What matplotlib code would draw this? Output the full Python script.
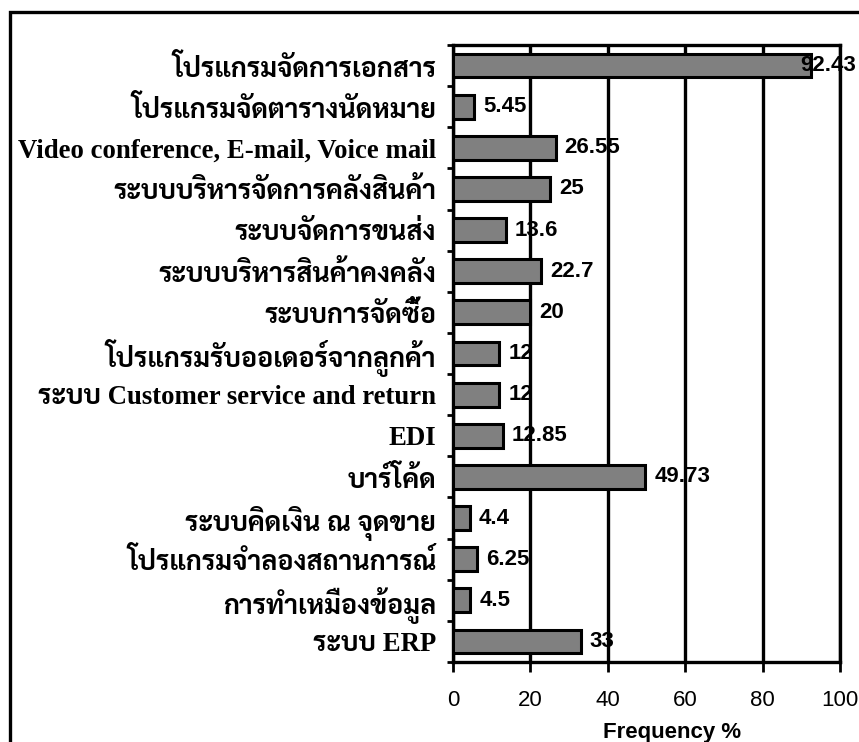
import matplotlib
matplotlib.use('Agg')
import matplotlib.pyplot as plt
import matplotlib.patheffects as pe
from matplotlib import font_manager
from matplotlib.patches import Rectangle

categories = [
    'โปรแกรมจัดการเอกสาร',
    'โปรแกรมจัดตารางนัดหมาย',
    'Video conference, E-mail, Voice mail',
    'ระบบบริหารจัดการคลังสินค้า',
    'ระบบจัดการขนส่ง',
    'ระบบบริหารสินค้าคงคลัง',
    'ระบบการจัดซื้อ',
    'โปรแกรมรับออเดอร์จากลูกค้า',
    'ระบบ Customer service and return',
    'EDI',
    'บาร์โค้ด',
    'ระบบคิดเงิน ณ จุดขาย',
    'โปรแกรมจำลองสถานการณ์',
    'การทำเหมืองข้อมูล',
    'ระบบ ERP',
]
values = [92.43, 5.45, 26.55, 25, 13.6, 22.7, 20, 12, 12, 12.85, 49.73, 4.4, 6.25, 4.5, 33]
labels = ['92.43', '5.45', '26.55', '25', '13.6', '22.7', '20', '12', '12', '12.85',
          '49.73', '4.4', '6.25', '4.5', '33']
xticks = [0, 20, 40, 60, 80, 100]

# pick a Thai-capable font, serif first, and prefer one that ships a bold face
fonts = font_manager.fontManager.ttflist
installed = {f.name for f in fonts}
prefs = ['Noto Serif Thai', 'Kinnari', 'Norasi', 'Laksaman', 'TH Sarabun New',
         'Sarabun', 'Noto Sans Thai', 'Noto Sans Thai Looped', 'Garuda', 'Loma']
thai = [n for n in prefs if n in installed]
thai += sorted(n for n in installed if 'Thai' in n and n not in thai)
has_bold = [n for n in thai
            if any(f.name == n and (f.weight == 'bold' or
                                    (isinstance(f.weight, int) and f.weight >= 600))
                   for f in fonts)]
thai_font = (has_bold or thai or ['DejaVu Sans'])[0]
label_family = ['Liberation Serif', thai_font, 'DejaVu Sans']
label_fx = [] if has_bold else [pe.withStroke(linewidth=0.9, foreground='black')]

W, H = 859, 742
fig = plt.figure(figsize=(W / 100, H / 100), dpi=100)
ax = fig.add_axes([453 / W, 1 - 662 / H, (840 - 453) / W, (662 - 45) / H])

n = len(categories)
ypos = list(range(n))
ax.barh(ypos, values, height=0.58, color='#808080', edgecolor='black',
        linewidth=2.2, zorder=3)

ax.set_xlim(0, 100)
ax.set_ylim(n - 0.5, -0.5)
ax.set_axisbelow(False)
ax.xaxis.grid(True, color='black', linewidth=2.4)
ax.yaxis.grid(False)

for s in ax.spines.values():
    s.set_linewidth(2.4)
    s.set_color('black')

ax.set_xticks(xticks)
ax.set_xticklabels([str(t) for t in xticks], family='Liberation Sans', fontsize=16)
ax.tick_params(axis='x', direction='out', length=7, width=2, pad=13)

ax.set_yticks([i - 0.5 for i in range(n + 1)], minor=False)
ax.set_yticklabels([])
ax.set_yticks(ypos, minor=True)
ax.set_yticklabels(categories, minor=True, family=label_family,
                   fontsize=19.3, fontweight='bold')
for t in ax.get_yticklabels(minor=True):
    t.set_path_effects(label_fx)
ax.tick_params(axis='y', which='major', direction='out', length=4, width=2)
ax.tick_params(axis='y', which='minor', length=0, pad=12)

ax.set_xlabel('Frequency %', family='Liberation Sans', fontsize=16,
              fontweight='bold')
ax.xaxis.set_label_coords(0.566, -0.097)

# value labels sit beside each bar (under the gridlines); a long bar's label
# is pulled back over the bar end so it stays inside the figure
for i, (v, lab) in enumerate(zip(values, labels)):
    if v < 85:
        off, z = 9, 1
    else:
        off, z = -10, 4
    ax.annotate(lab, (v, i), xytext=(off, 0), textcoords='offset pixels',
                ha='left', va='center', family='Liberation Sans',
                fontsize=16, fontweight='bold', zorder=z,
                annotation_clip=False)

# outer frame
fig.patches.append(Rectangle((10 / W, -0.1), 1.2, 1 - 12 / H + 0.1,
                             transform=fig.transFigure, fill=False,
                             edgecolor='black', linewidth=2.4))

fig.savefig('out.png', dpi=100)
